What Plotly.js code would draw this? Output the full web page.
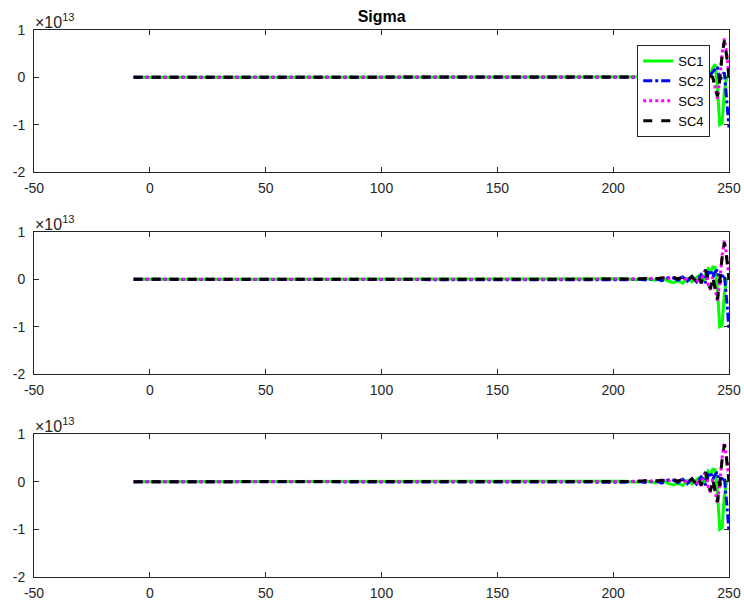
<!DOCTYPE html>
<html>
<head>
<meta charset="utf-8">
<script src="https://cdn.plot.ly/plotly-3.0.1.min.js"></script>
<style>html,body{margin:0;padding:0;background:#fff;}#chart{width:744px;height:604px;}</style>
</head>
<body>
<div id="chart"></div>
<script>
// x samples (time index)
var xs = [-7, 100, 200, 205, 210, 214, 218, 221, 224, 226, 228, 230, 232, 234, 236, 237, 238, 239, 240, 241, 242, 243, 244, 245, 246, 247, 248, 249, 250];

// values in units of 1e13
// panel 1
var p1_sc1 = [0,0,0,0,0,0,0,0,0,0,0,0,0,0,0,0,0,0, 0.01,0.03,0.08,0.2,0.28,-0.2,-1.0,-0.97,-0.3,0.0,0.05];
var p1_sc2 = [0,0,0,0,0,0,0,0,0,0,0,0,0,0,0,0,0,0, 0.0,0.02,0.05,0.12,0.18,0.22,-0.1,0.05,0.1,-0.45,-1.06];
var p1_sc3 = [0,0,0,0,0,0,0,0,0,0,0,0,0,0,0,0,0,0, 0.0,0.01,0.03,0.0,-0.22,-0.45,-0.05,0.5,0.82,0.5,0.02];
var p1_sc4 = [0,0,0,0,0,0,0,0,0,0,0,0,0,0,0,0,0,0, 0.0,0.01,0.03,0.0,-0.2,-0.4,-0.05,0.45,0.78,0.45,0.0];

// panel 2
var p2_sc1 = [0,0,0.005,0.01,-0.01,0.015,-0.02,0.03,-0.04,-0.07,-0.03,-0.08,0.02,-0.05,0.04,0.08,0.02,-0.06,0.12,0.22,0.15,0.26,0.25,-0.2,-1.0,-0.97,-0.3,0.0,0.05];
var p2_sc2 = [0,0,0.005,-0.01,0.01,-0.015,0.02,-0.03,0.04,0.03,-0.02,0.05,-0.04,0.06,-0.05,0.02,0.1,0.05,-0.08,0.12,0.2,0.05,0.15,0.2,-0.1,0.05,0.1,-0.45,-1.06];
var p2_sc3 = [0,0,0.005,0.01,0.005,0.02,0.01,0.03,0.02,0.04,0.01,0.05,-0.02,0.06,-0.07,0.05,-0.09,0.13,0.22,-0.12,-0.22,0.05,-0.22,-0.45,-0.05,0.5,0.82,0.5,0.02];
var p2_sc4 = [0,0,0.005,0.01,0.005,0.02,0.01,0.03,0.02,0.04,0.01,0.05,-0.02,0.06,-0.06,0.05,-0.08,0.12,0.2,-0.1,-0.2,0.05,-0.2,-0.42,-0.05,0.45,0.78,0.45,0.0];

// panel 3
var p3_sc1 = [0,0,0.005,0.01,-0.01,0.015,-0.02,0.03,-0.04,-0.07,-0.03,-0.08,0.02,-0.05,0.04,0.08,0.02,-0.06,0.12,0.22,0.15,0.26,0.25,-0.2,-1.0,-0.97,-0.3,0.0,0.05];
var p3_sc2 = [0,0,0.005,-0.01,0.01,-0.015,0.02,-0.03,0.04,0.03,-0.02,0.05,-0.04,0.06,-0.05,0.02,0.1,0.05,-0.08,0.12,0.2,0.05,0.15,0.2,-0.1,0.05,0.1,-0.45,-1.06];
var p3_sc3 = [0,0,0.005,0.01,0.005,0.02,0.01,0.03,0.02,0.04,0.01,0.05,-0.02,0.06,-0.07,0.05,-0.09,0.13,0.22,-0.12,-0.22,0.05,-0.22,-0.45,-0.05,0.5,0.82,0.5,0.02];
var p3_sc4 = [0,0,0.005,0.01,0.005,0.02,0.01,0.03,0.02,0.04,0.01,0.05,-0.02,0.06,-0.06,0.05,-0.08,0.12,0.2,-0.1,-0.2,0.05,-0.2,-0.42,-0.05,0.45,0.78,0.45,0.0];

var seriesNames = ['SC1', 'SC2', 'SC3', 'SC4'];
var xTicks = [-50, 0, 50, 100, 150, 200, 250];
var xTickText = ['-50', '0', '50', '100', '150', '200', '250'];
var yTicks = [-2, -1, 0, 1];
var yTickText = ['-2', '-1', '0', '1'];

var styles = [
  {color: '#00ff00', dash: 'solid', width: 3},
  {color: '#0000ff', dash: 'dashdot', width: 3},
  {color: '#ff00ff', dash: 'dot', width: 3},
  {color: '#000000', dash: 'dash', width: 3}
];

var panels = [
  [p1_sc1, p1_sc2, p1_sc3, p1_sc4],
  [p2_sc1, p2_sc2, p2_sc3, p2_sc4],
  [p3_sc1, p3_sc2, p3_sc3, p3_sc4]
];

var traces = [];
panels.forEach(function (series, pi) {
  var sfx = pi === 0 ? '' : String(pi + 1);
  series.forEach(function (ys, si) {
    traces.push({
      x: xs, y: ys, type: 'scatter', mode: 'lines',
      name: seriesNames[si], showlegend: pi === 0,
      xaxis: 'x' + sfx, yaxis: 'y' + sfx,
      line: styles[si]
    });
  });
});

var axColor = '#262626';
function xax(anchor) {
  return {range: [-50, 250], tickvals: xTicks, ticktext: xTickText, ticks: 'inside', ticklen: 5, tickcolor: axColor,
    showline: true, linecolor: axColor, linewidth: 1, mirror: 'ticks', showgrid: false, zeroline: false,
    ticklabelstandoff: 3,
    tickfont: {size: 14, color: axColor}, anchor: anchor};
}
function yax(domain, anchor) {
  return {range: [-2, 1], tickvals: yTicks, ticktext: yTickText, ticks: 'inside', ticklen: 5, tickcolor: axColor,
    showline: true, linecolor: axColor, linewidth: 1, mirror: 'ticks', showgrid: false, zeroline: false,
    ticklabelstandoff: 5,
    tickfont: {size: 14, color: axColor}, domain: domain, anchor: anchor};
}

var d1 = [0.7404, 1], d2 = [0.3711, 0.6307], d3 = [0, 0.2614];
function expAnn(top) {
  return {xref: 'paper', yref: 'paper', x: 0, y: top, xanchor: 'left', yanchor: 'bottom',
    text: '\u00d710<sup>13</sup>', showarrow: false, font: {size: 16, color: axColor}, xshift: -1, yshift: -3};
}

var layout = {
  width: 744, height: 604,
  margin: {l: 34, r: 15, t: 30, b: 27},
  paper_bgcolor: '#ffffff', plot_bgcolor: '#ffffff',
  font: {family: '"Liberation Sans", Arial, Helvetica, sans-serif', color: axColor},
  title: {text: '<b>Sigma</b>', x: 0.513, xanchor: 'center', y: 0.973, yanchor: 'middle',
    font: {size: 16, color: '#000000'}},
  xaxis: xax('y'), yaxis: yax(d1, 'x'),
  xaxis2: xax('y2'), yaxis2: yax(d2, 'x2'),
  xaxis3: xax('y3'), yaxis3: yax(d3, 'x3'),
  showlegend: true,
  legend: {x: 0.973, xanchor: 'right', y: 0.9726, yanchor: 'top', bgcolor: '#ffffff',
    bordercolor: axColor, borderwidth: 1, font: {size: 13, color: '#000000'},
    tracegroupgap: 0, itemwidth: 30},
  annotations: [expAnn(d1[1]), expAnn(d2[1]), expAnn(d3[1])]
};

Plotly.newPlot('chart', traces, layout, {displayModeBar: false, staticPlot: true});
</script>
</body>
</html>
